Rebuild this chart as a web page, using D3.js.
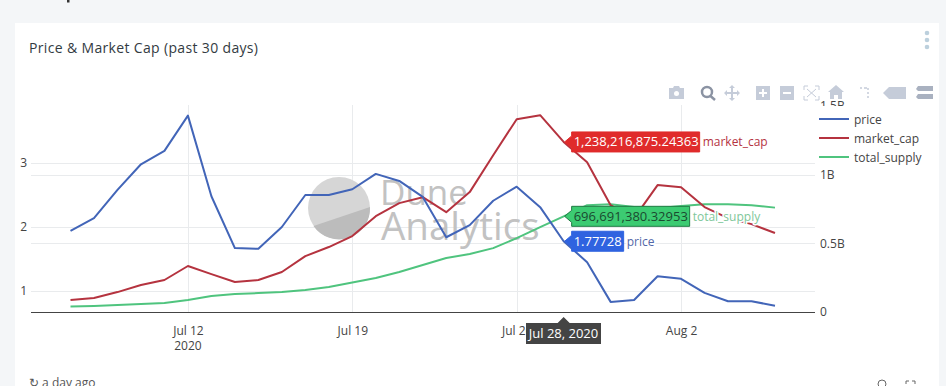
<!DOCTYPE html>
<html>
<head>
<meta charset="utf-8">
<script src="https://cdn.jsdelivr.net/npm/d3@7/dist/d3.min.js"></script>
<style>
html,body{margin:0;padding:0;background:#f4f6f8;overflow:hidden}
svg{display:block}
text{font-family:"Open Sans",sans-serif}
</style>
</head>
<body>
<svg id="c" width="946" height="386"></svg>
<script>
const dates = ["2020-07-07","2020-07-08","2020-07-09","2020-07-10","2020-07-11","2020-07-12","2020-07-13","2020-07-14","2020-07-15","2020-07-16","2020-07-17","2020-07-18","2020-07-19","2020-07-20","2020-07-21","2020-07-22","2020-07-23","2020-07-24","2020-07-25","2020-07-26","2020-07-27","2020-07-28","2020-07-29","2020-07-30","2020-07-31","2020-08-01","2020-08-02","2020-08-03","2020-08-04","2020-08-05","2020-08-06"];
const price = [1.94,2.14,2.58,2.98,3.19,3.74,2.48,1.67,1.66,2.0,2.5,2.5,2.59,2.83,2.72,2.47,1.84,2.03,2.41,2.63,2.31,1.77728,1.45,0.83,0.86,1.23,1.19,0.97,0.84,0.84,0.77];
const marketCap = [0.087,0.102,0.145,0.196,0.233,0.335,0.276,0.218,0.233,0.291,0.407,0.473,0.553,0.698,0.793,0.836,0.727,0.873,1.142,1.404,1.433,1.23822,1.091,0.778,0.684,0.924,0.909,0.764,0.684,0.640,0.575];
const totalSupply = [0.040,0.044,0.051,0.058,0.065,0.087,0.116,0.131,0.138,0.145,0.160,0.182,0.215,0.247,0.291,0.342,0.393,0.422,0.465,0.538,0.618,0.69669,0.778,0.785,0.764,0.756,0.771,0.785,0.785,0.778,0.760];
const xTicks = ["2020-07-12","2020-07-19","2020-07-26","2020-08-02"];
const xTickLabels = ["Jul 12","Jul 19","Jul 26","Aug 2"];
const leftTicks = [1,2,3];
const rightTicks = [0,0.5,1,1.5];
const rightTickLabels = ["0","0.5B","1B","1.5B"];
const seriesNames = ["price","market_cap","total_supply"];
const seriesColors = ["#4265b8","#b5333f","#4fc47e"];
const hoverIndex = 21;
const hoverDate = "Jul 28, 2020";
const hoverPrice = "1.77728";
const hoverCap = "1,238,216,875.24363";
const hoverSupply = "696,691,380.32953";

const parse = d3.utcParse("%Y-%m-%d");
const days = dates.map(parse);
const svg = d3.select("#c");

// page + card
svg.append("rect").attr("x",67).attr("y",0).attr("width",2.5).attr("height",2.5).attr("fill","#333");
svg.append("rect").attr("x",15).attr("y",23).attr("width",924).attr("height",363).attr("fill","#fff");
svg.append("text").attr("x",29).attr("y",53).attr("font-size",14).attr("font-weight",500).attr("fill","#333b42")
  .attr("textLength",229).text("Price & Market Cap (past 30 days)");

const x = d3.scaleUtc().domain([days[0],days[days.length-1]]).range([70.5,775]);
const yL = d3.scaleLinear().domain([1,3]).range([291,163]);
const yR = d3.scaleLinear().domain([0,1.5]).range([312,106]);
const plotL = 31, plotR = 815, plotT = 105, plotB = 312;

// grid
const grid = svg.append("g").attr("stroke","#e9ebed").attr("stroke-width",1);
xTicks.forEach(t=>{const p=Math.round(x(parse(t)))+.5;grid.append("line").attr("x1",p).attr("x2",p).attr("y1",plotT).attr("y2",plotB);});
leftTicks.forEach(t=>{const p=Math.round(yL(t))+.5;grid.append("line").attr("x1",plotL).attr("x2",plotR).attr("y1",p).attr("y2",p);});
rightTicks.slice(1,3).forEach(t=>{const p=Math.round(yR(t))+.5;grid.append("line").attr("x1",plotL).attr("x2",plotR).attr("y1",p).attr("y2",p);});

// watermark
const wm = svg.append("g");
wm.append("circle").attr("cx",339).attr("cy",208).attr("r",31).attr("fill","#d6d6d6");
wm.append("path").attr("d","M313.5 226 L370 207 A31 31 0 0 1 313.5 226 Z").attr("fill","#bcbcbc");
wm.append("text").attr("x",380).attr("y",205).attr("font-size",35).attr("fill","#c2c2c2").text("Dune");
wm.append("text").attr("x",381).attr("y",240).attr("font-size",38.5).attr("fill","#c2c2c2").text("Analytics");

// axes
const axisStyle = g=>{g.select(".domain").remove();g.selectAll("line").remove();g.selectAll("text").attr("fill","#444").attr("font-size",12).attr("font-family","Open Sans");};
svg.append("g").attr("transform",`translate(0,${plotB})`)
  .call(d3.axisBottom(x).tickValues(xTicks.map(parse)).tickFormat((d,i)=>xTickLabels[i]).tickSize(0).tickPadding(14)).call(axisStyle);
svg.append("text").attr("x",x(parse(xTicks[0]))).attr("y",350).attr("text-anchor","middle").attr("font-size",12).attr("fill","#444").text("2020");
svg.append("g").attr("transform",`translate(${plotL-4},0)`)
  .call(d3.axisLeft(yL).tickValues(leftTicks).tickFormat(d3.format("d")).tickSize(0).tickPadding(0)).call(axisStyle);
svg.append("g").attr("transform",`translate(${plotR+5},0)`)
  .call(d3.axisRight(yR).tickValues(rightTicks).tickFormat((d,i)=>rightTickLabels[i]).tickSize(0).tickPadding(0)).call(axisStyle);
svg.append("line").attr("x1",plotL).attr("x2",plotR).attr("y1",plotB+.5).attr("y2",plotB+.5).attr("stroke","#444").attr("stroke-width",1);

// lines
const mk = (vals,sc)=>d3.line().x((d,i)=>x(days[i])).y(d=>sc(d))(vals);
const seriesData = [[totalSupply,yR,2],[marketCap,yR,1],[price,yL,0]];
seriesData.forEach(([v,s,c])=>{
  svg.append("path").attr("d",mk(v,s)).attr("fill","none").attr("stroke",seriesColors[c]).attr("stroke-width",2).attr("stroke-linejoin","round");
});

// legend
const leg = svg.append("g");
leg.append("rect").attr("x",816).attr("y",106).attr("width",112).attr("height",64).attr("fill","#fff");
seriesNames.forEach((n,i)=>{
  const yy=119+19*i;
  leg.append("line").attr("x1",819).attr("x2",849).attr("y1",yy).attr("y2",yy).attr("stroke",seriesColors[i]).attr("stroke-width",2);
  leg.append("text").attr("x",854).attr("y",yy+4.5).attr("font-size",12).attr("fill","#444").text(n);
});

// hover labels
const hx = x(days[hoverIndex]);
function hover(yc,val,name,fill,stroke,txt,nameCol,w){
  const g=svg.append("g");
  const h=20,tip=hx+1,bx=tip+7;
  g.append("path").attr("d",`M${tip} ${yc} L${bx} ${yc-6} V${yc-h/2} H${bx+w} V${yc+h/2} H${bx} V${yc+6} Z`)
    .attr("fill",fill).attr("stroke",stroke).attr("stroke-width",1);
  g.append("text").attr("x",bx+2).attr("y",yc+4.5).attr("font-size",13).attr("fill",txt).attr("font-family","Liberation Sans").text(val);
  g.append("text").attr("x",bx+w+3).attr("y",yc+4.5).attr("font-size",12).attr("fill",nameCol)
    .attr("stroke","#fff").attr("stroke-width",3).attr("paint-order","stroke").text(name);
}
hover(yR(marketCap[hoverIndex]),hoverCap,seriesNames[1],"#e02b2b","#e02b2b","#fff","#b5333f",128);
hover(yR(totalSupply[hoverIndex]),hoverSupply,seriesNames[2],"#3ccb72","#1f7a43","#1a4a30","#7ec79a",118);
hover(yL(price[hoverIndex]),hoverPrice,seriesNames[0],"#2f63e0","#2f63e0","#fff","#5268a8",52);

// date label
const dg=svg.append("g");
dg.append("path").attr("d",`M${hx} 317 L${hx+6} 323 H601 V344 H526 V323 H${hx-6} Z`).attr("fill","#444");
dg.append("text").attr("x",(526+601)/2).attr("y",338).attr("text-anchor","middle").attr("font-size",13).attr("font-family","Liberation Sans").attr("fill","#fff").text(hoverDate);

// modebar
svg.append("rect").attr("x",660).attr("y",82).attr("width",275).attr("height",18.5).attr("fill","#fff");
const mb=svg.append("g").attr("fill","#c5ccd9");
mb.append("path").attr("d","M669 88h4l1-2h5l1 2h4v11h-15z");
mb.append("circle").attr("cx",676.5).attr("cy",93.5).attr("r",2.5).attr("fill","#fff");
mb.append("circle").attr("cx",707).attr("cy",92).attr("r",5).attr("fill","none").attr("stroke","#8b93a3").attr("stroke-width",2.5);
mb.append("line").attr("x1",710.5).attr("y1",96).attr("x2",715).attr("y2",100).attr("stroke","#8b93a3").attr("stroke-width",2.5);
mb.append("path").attr("d","M732 86v14M725 93h14").attr("stroke","#c5ccd9").attr("stroke-width",2);
mb.append("path").attr("d","M732 85l-3 3h6zM732 101l-3-3h6zM724 93l3-3v6zM740 93l-3-3v6z");
mb.append("rect").attr("x",756).attr("y",86).attr("width",14).attr("height",14);
mb.append("path").attr("d","M763 89v8M759 93h8").attr("stroke","#fff").attr("stroke-width",2);
mb.append("rect").attr("x",780).attr("y",86).attr("width",14).attr("height",14);
mb.append("path").attr("d","M783 93h8").attr("stroke","#fff").attr("stroke-width",2);
mb.append("path").attr("d","M804 90v-4h4M815 86h4v4M804 96v4h4M815 100h4v-4M807 89l9 8M816 89l-9 8").attr("fill","none").attr("stroke","#c5ccd9").attr("stroke-width",1);
mb.append("path").attr("d","M836 85l8 7h-2v7h-4v-4h-4v4h-4v-7h-2z");
mb.append("path").attr("d","M860 88h2M864 88h3M868 88v2M868 92v2M868 96v2").attr("stroke","#c5ccd9").attr("stroke-width",1.5);
mb.append("path").attr("d","M883 93l6-6h17v12h-17z");
mb.append("path").attr("d","M916 89l2-3h15v5h-15zM916 97l2-3h15v5h-15z").attr("fill","#a9b1c0");
const dots=svg.append("g").attr("fill","#bcd0dd");
[33,40,47].forEach(yy=>dots.append("circle").attr("cx",927).attr("cy",yy).attr("r",2.3));

// footer
svg.append("text").attr("x",29).attr("y",387).attr("font-size",12).attr("fill","#555").text("↻ a day ago");
svg.append("circle").attr("cx",882).attr("cy",384).attr("r",4).attr("fill","none").attr("stroke","#666");
svg.append("path").attr("d","M906 384v-3h3M912 381h3v3").attr("fill","none").attr("stroke","#666");
</script>
</body>
</html>
